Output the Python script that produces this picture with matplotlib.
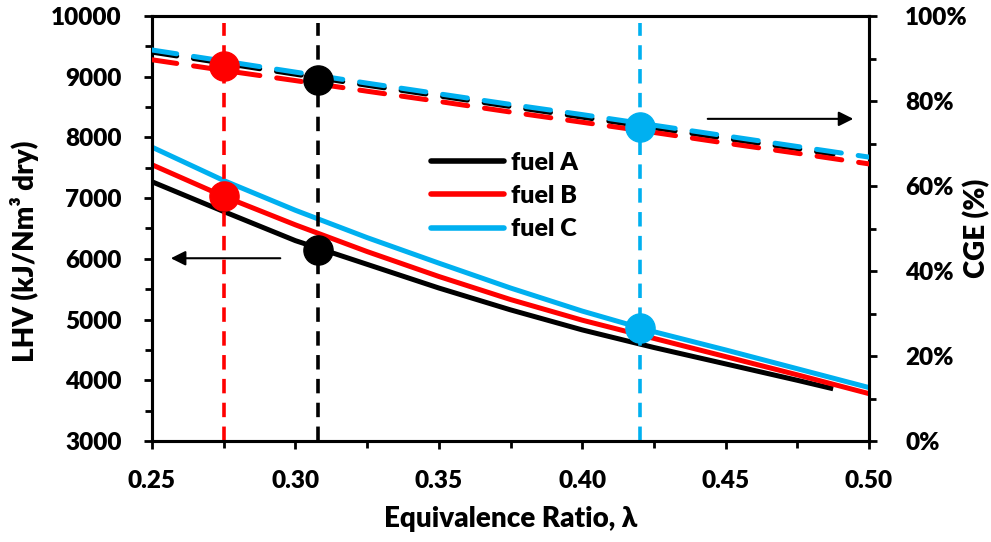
import matplotlib
matplotlib.use("Agg")
import matplotlib.pyplot as plt
from matplotlib.ticker import MultipleLocator, FuncFormatter

plt.rcParams['font.family'] = ['Lato', 'DejaVu Sans']
plt.rcParams['font.weight'] = 'heavy'

# Equivalence ratio grid
lam = [0.25, 0.275, 0.30, 0.325, 0.35, 0.375, 0.40, 0.425, 0.45, 0.475, 0.50]
lam_a = [0.25, 0.275, 0.30, 0.325, 0.35, 0.375, 0.40, 0.425, 0.45, 0.475, 0.4875]

# Lower heating value of the syngas (kJ/Nm3 dry)
lhv_a = [7270, 6780, 6300, 5910, 5520, 5160, 4830, 4540, 4270, 4000, 3860]
lhv_b = [7550, 7030, 6560, 6120, 5710, 5330, 4990, 4690, 4390, 4090, 3780]
lhv_c = [7840, 7290, 6800, 6350, 5930, 5520, 5140, 4800, 4500, 4190, 3880]

# Cold gas efficiency (%)
cge_a = [91.5, 88.9, 86.3, 83.7, 81.2, 78.7, 76.2, 73.7, 71.2, 68.8, 67.5]
cge_b = [89.7, 87.2, 84.8, 82.3, 79.9, 77.4, 75.0, 72.6, 70.1, 67.7, 65.2]
cge_c = [92.0, 89.4, 86.8, 84.2, 81.7, 79.2, 76.8, 74.3, 71.8, 69.3, 66.8]

# Selected operating points per fuel
fuels = ['fuel A', 'fuel B', 'fuel C']
colors = ['#000000', '#FF0000', '#00B0F0']
op_lam = [0.308, 0.275, 0.42]
op_lhv = [6150, 7030, 4860]
op_cge = [85.0, 88.2, 73.9]

fig = plt.figure(figsize=(9.91, 5.42), dpi=100)
ax = fig.add_axes([152/991, 1-441/542, (869-152)/991, (441-16)/542])
ax2 = ax.twinx()

lw = 3.6
for x, y, c, name in zip([lam_a, lam, lam], [lhv_a, lhv_b, lhv_c], colors, fuels):
    ax.plot(x, y, color=c, lw=lw, solid_capstyle='butt', label=name, zorder=3)

for x, y, c in zip([lam_a, lam, lam], [cge_a, cge_b, cge_c], colors):
    ax2.plot(x, y, color=c, lw=lw, dashes=(5.0, 3.4), dash_capstyle='round', zorder=3)

for xl, c in zip(op_lam, colors):
    ax2.axvline(xl, ymin=0, ymax=0.983, color=c, lw=2.6, dashes=(4.0, 2.6), zorder=2)

for xl, yl, yc, c in zip(op_lam, op_lhv, op_cge, colors):
    ax.plot([xl], [yl], 'o', ms=21, color=c, mec=c, zorder=5)
    ax2.plot([xl], [yc], 'o', ms=21, color=c, mec=c, zorder=5)

# Direction arrows pointing to the relevant axis
ax.annotate('', xy=(0.2556, 6010), xytext=(0.2957, 6010),
            arrowprops=dict(arrowstyle='-|>', lw=1.5, color='black', mutation_scale=22))
ax2.annotate('', xy=(0.4955, 75.8), xytext=(0.4428, 75.8),
             arrowprops=dict(arrowstyle='-|>', lw=1.5, color='black', mutation_scale=22))

ax.set_xlim(0.25, 0.50)
ax.set_ylim(3000, 10000)
ax2.set_ylim(0, 100)

ax.xaxis.set_major_locator(MultipleLocator(0.05))
ax.xaxis.set_minor_locator(MultipleLocator(0.025))
ax.yaxis.set_major_locator(MultipleLocator(1000))
ax.yaxis.set_minor_locator(MultipleLocator(500))
ax2.yaxis.set_major_locator(MultipleLocator(20))
ax2.yaxis.set_minor_locator(MultipleLocator(10))
ax.xaxis.set_major_formatter(FuncFormatter(lambda v, p: f'{v:.2f}'))
ax2.yaxis.set_major_formatter(FuncFormatter(lambda v, p: f'{v:.0f}%'))

tick_fs = 17.5
ax.tick_params(axis='x', which='major', direction='out', length=6, width=2, pad=15, labelsize=tick_fs)
ax.tick_params(axis='x', which='minor', direction='out', length=5, width=2)
ax.tick_params(axis='y', which='major', direction='out', length=6, width=2, pad=16, labelsize=tick_fs)
ax.tick_params(axis='y', which='minor', direction='out', length=5, width=2)
ax2.tick_params(axis='y', which='major', direction='out', length=6, width=2, pad=20, labelsize=tick_fs)
ax2.tick_params(axis='y', which='minor', direction='out', length=5, width=2)

for a in (ax, ax2):
    for s in a.spines.values():
        s.set_linewidth(2.2)

label_fs = 20
ax.set_xlabel('Equivalence Ratio, λ', fontsize=label_fs, fontweight='heavy')
ax.set_ylabel('LHV (kJ/Nm³ dry)', fontsize=label_fs, fontweight='heavy')
ax2.set_ylabel('CGE (%)', fontsize=label_fs, fontweight='heavy')
ax.xaxis.set_label_coords(0.5, -0.152)
ax.yaxis.set_label_coords(-0.158, 0.447)
ax2.yaxis.set_label_coords(1.131, 0.5)

leg = ax.legend(loc='center', bbox_to_anchor=(0.492, 0.576), frameon=False,
                prop={'size': 18, 'weight': 'heavy'}, handlelength=2.9,
                handletextpad=0.3, labelspacing=0.45)
for h in leg.get_lines():
    h.set_linewidth(4)
    h.set_solid_capstyle('round')
leg.set_zorder(10)

fig.savefig('out.png', dpi=100)
